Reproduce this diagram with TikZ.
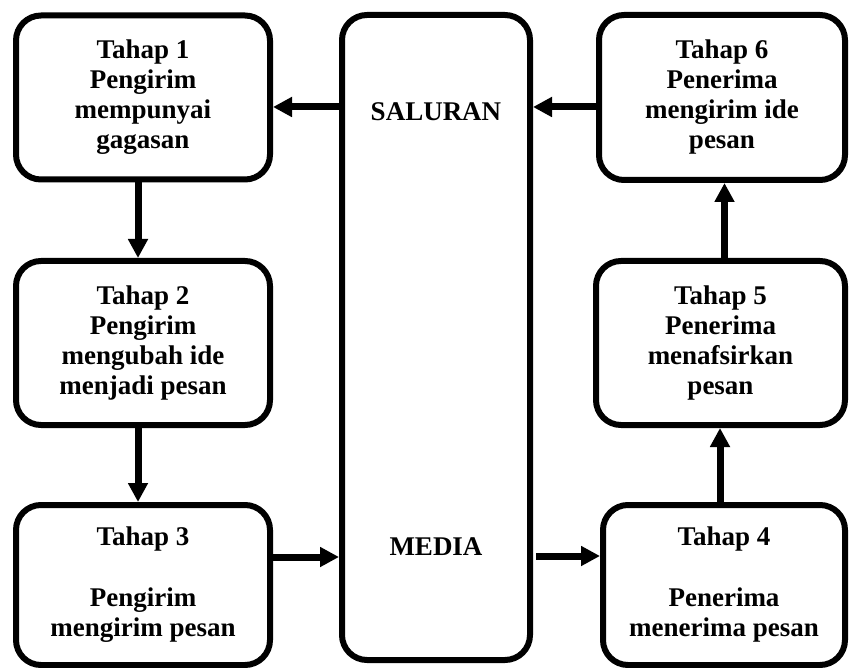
\documentclass[tikz,border=0pt]{standalone}
\usepackage{fontspec}
\setmainfont{Liberation Serif}
\usetikzlibrary{arrows.meta, positioning}

\begin{document}
\begin{tikzpicture}[x=1pt, y=-1pt]

\tikzstyle{tahap} = [draw, line width=6pt, rounded corners=25pt, inner sep=0pt,
  minimum width=254pt, minimum height=164pt, align=center,
  font=\fontsize{27}{30}\selectfont\bfseries]
\tikzstyle{panah} = [line width=7pt, -{Triangle[length=19pt, width=19pt]}]

\useasboundingbox (0,0) rectangle (849,668);

\node[tahap] (tahap1) at (143,97.5) {Tahap 1\\Pengirim\\mempunyai\\gagasan};
\node[tahap] (tahap2) at (143,343) {Tahap 2\\Pengirim\\mengubah ide\\menjadi pesan};
\node[tahap, minimum height=160pt] (tahap3) at (143,585) {Tahap 3\\[31pt]Pengirim\\mengirim pesan};

\node[tahap, minimum width=188pt, minimum height=645pt] (kanal) at (436,337.5) {};
\node[font=\fontsize{27}{30}\selectfont\bfseries] (saluran) at (436,112) {SALURAN};
\node[font=\fontsize{27}{30}\selectfont\bfseries] (media) at (436,547) {MEDIA};

\node[tahap, minimum width=242pt, minimum height=160pt] (tahap4) at (724,585) {Tahap 4\\[31pt]Penerima\\menerima pesan};
\node[tahap, minimum width=249pt] (tahap5) at (720.5,343) {Tahap 5\\Penerima\\menafsirkan\\pesan};
\node[tahap, minimum width=246pt, minimum height=165pt] (tahap6) at (722,97.5) {Tahap 6\\Penerima\\mengirim ide\\pesan};

\draw[panah] (kanal.west |- saluran.west) ++(0,-5) coordinate (k1) -- (k1 -| tahap1.east);
\draw[panah] (tahap6.west |- k1) -- (k1 -| kanal.east);
\draw[panah] ([xshift=-5pt]tahap1.south) -- ([xshift=-5pt]tahap2.north);
\draw[panah] ([xshift=-5pt]tahap2.south) -- ([xshift=-5pt]tahap3.north);
\draw[panah] ([yshift=28pt]tahap3.east) -- ([yshift=28pt]tahap3.east -| kanal.west);
\draw[panah] ([xshift=3pt,yshift=29pt]tahap4.west -| kanal.east) -- ([yshift=29pt]tahap4.west);
\draw[panah] ([xshift=-4pt]tahap4.north) -- ([xshift=-4pt]tahap4.north |- tahap5.south);
\draw[panah] ([xshift=4pt]tahap5.north) -- ([xshift=4pt]tahap5.north |- tahap6.south);

\end{tikzpicture}
\end{document}
